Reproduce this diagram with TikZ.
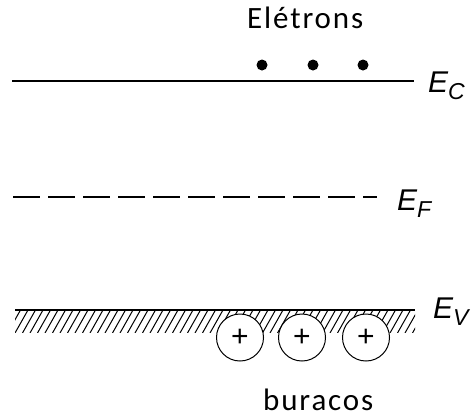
\documentclass[tikz,border=0pt]{standalone}
\usepackage{fontspec}
\setmainfont{Carlito}[LetterSpace=6]
\newfontfamily\arialfont{Liberation Sans}
\usetikzlibrary{positioning}

\tikzset{
    level/.style={line width=1.4pt},
    lbl/.style={inner sep=0pt, anchor=base west, font=\fontsize{31}{32}\selectfont},
    elbl/.style={inner sep=0pt, anchor=base west, font=\arialfont\itshape\fontsize{30}{30}\selectfont},
    hole/.style={circle, draw, line width=1pt, fill=white, minimum size=47pt, inner sep=0pt,
                 font=\arialfont\fontsize{30}{30}\selectfont}
}
\newcommand{\lvl}[2]{#1\textsubscript{\fontsize{23}{23}\selectfont #2}}

\begin{document}
\begin{tikzpicture}[x=1pt, y=-1pt]
    \useasboundingbox (0,0) rectangle (473,418);

    % Conduction band edge E_C with electrons
    \coordinate (ECl) at (12,81);
    \coordinate (ECr) at (414,81);
    \draw[level] (ECl) -- (ECr);
    \node[elbl] (EC) at (428,92) {\lvl{E}{C}};
    \node[lbl] (eletrons) at (247,28) {Elétrons};
    \fill (262,65) circle (5.5);
    \fill (313,65) circle (5.5);
    \fill (363,65) circle (5.5);

    % Fermi level (dashed)
    \coordinate (EFl) at (13,197);
    \coordinate (EFr) at (377,197);
    \draw[level, dash pattern=on 27pt off 8pt] (EFl) -- (EFr);
    \node[elbl] (EF) at (397,210) {\lvl{E}{F}};

    % Valence band edge E_V, hatched below
    \coordinate (EVl) at (15,310);
    \coordinate (EVr) at (415,310);
    \begin{scope}
        \clip (15,310) rectangle (415,332);
        \foreach \x in {0,7.5,...,420}
            \draw[line width=1pt] (\x,333) -- (\x+13,310);
    \end{scope}
    \draw[level] (EVl) -- (EVr);
    \node[elbl] (EV) at (433,318) {\lvl{E}{V}};

    % Holes
    \node[hole] (h1) at (240,337.5) {+};
    \node[hole] (h2) at (302,337.5) {+};
    \node[hole] (h3) at (366,337.5) {+};
    \node[lbl] (buracos) at (263,410) {buracos};

\end{tikzpicture}
\end{document}
